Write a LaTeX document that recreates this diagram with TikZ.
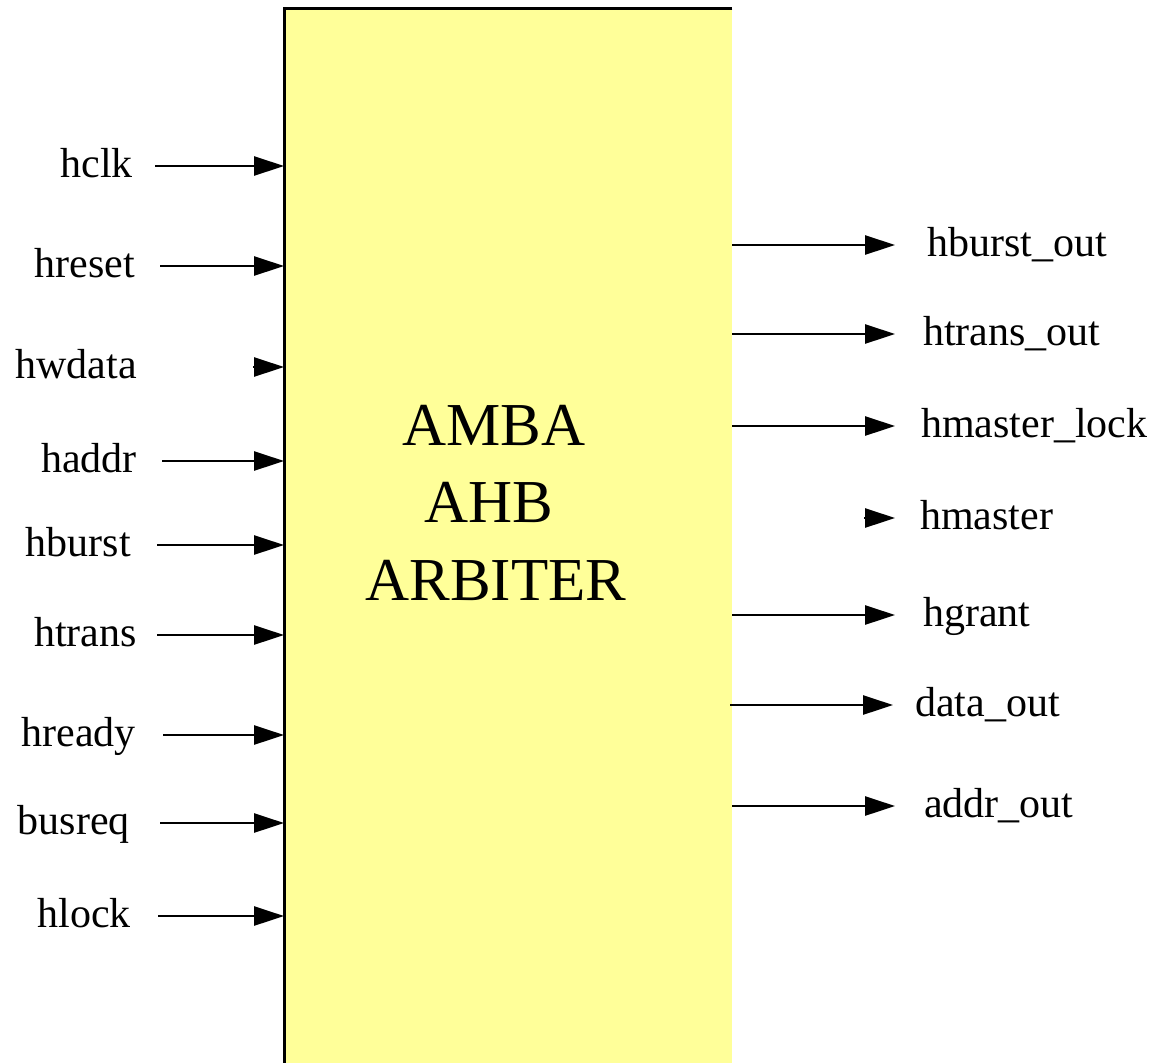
\documentclass[tikz,border=0pt]{standalone}
\usepackage{fontspec}
\setmainfont{Liberation Serif}
\usetikzlibrary{arrows.meta}
\definecolor{boxyellow}{RGB}{255,255,153}
\tikzset{
  lab/.style={inner sep=0pt, text height=22pt, text depth=0pt, font=\fontsize{42}{48}\selectfont},
  ttl/.style={inner sep=0pt, anchor=base, font=\fontsize{61}{72}\selectfont},
  sig/.style={line width=2.8pt, -{Triangle[length=30pt,width=19pt]}},
  tiponly/.style={line width=2.8pt, -{Triangle[length=30pt,width=19pt]}},
}
\begin{document}
\begin{tikzpicture}[x=1pt,y=-1pt]
\useasboundingbox (0,0) rectangle (1163,1063);
% block
\node[fill=boxyellow, draw=none, inner sep=0pt, minimum width=448pt, minimum height=1055pt, anchor=north west] (box) at (284,8) {};
\draw[line width=3pt] (box.north east) -- (box.north west) -- (box.south west);
\node[ttl] (t1) at (494,445) {AMBA};
\node[ttl] (t2) at (489,522) {AHB};
\node[ttl] (t3) at (496,600) {ARBITER};
% left inputs
\node[lab, anchor=east] (hclk)   at (133,166) {hclk};
\node[lab, anchor=east] (hreset) at (135,266) {hreset};
\node[lab, anchor=east] (hwdata) at (137,367) {hwdata};
\node[lab, anchor=east] (haddr)  at (137,461) {haddr};
\node[lab, anchor=east] (hburst) at (131,545) {hburst};
\node[lab, anchor=east] (htrans) at (137,635) {htrans};
\node[lab, anchor=east] (hready) at (136,735) {hready};
\node[lab, anchor=east] (busreq) at (130,823) {busreq};
\node[lab, anchor=east] (hlock)  at (131,916) {hlock};
\draw[sig] ([xshift=22pt]hclk.east)   -- (hclk.east -| box.west);
\draw[sig] ([xshift=25pt]hreset.east) -- (hreset.east -| box.west);
\draw[tiponly] ([xshift=-31pt]hwdata.east -| box.west) -- (hwdata.east -| box.west);
\draw[sig] ([xshift=25pt]haddr.east)  -- (haddr.east -| box.west);
\draw[sig] ([xshift=26pt]hburst.east) -- (hburst.east -| box.west);
\draw[sig] ([xshift=20pt]htrans.east) -- (htrans.east -| box.west);
\draw[sig] ([xshift=27pt]hready.east) -- (hready.east -| box.west);
\draw[sig] ([xshift=30pt]busreq.east) -- (busreq.east -| box.west);
\draw[sig] ([xshift=27pt]hlock.east)  -- (hlock.east -| box.west);
% right outputs
\coordinate (rtip) at (895,0);
\node[lab, anchor=west] (hburstout)  at (927,245) {hburst\_out};
\node[lab, anchor=west] (htransout)  at (923,334) {htrans\_out};
\node[lab, anchor=west] (hmlock)     at (921,426) {hmaster\_lock};
\node[lab, anchor=west] (hmaster)    at (920,518) {hmaster};
\node[lab, anchor=west] (hgrant)     at (923,615) {hgrant};
\node[lab, anchor=west] (dataout)    at (915,705) {data\_out};
\node[lab, anchor=west] (addrout)    at (924,806) {addr\_out};
\draw[sig] (hburstout.west -| box.east) -- (hburstout.west -| rtip);
\draw[sig] (htransout.west -| box.east) -- (htransout.west -| rtip);
\draw[sig] (hmlock.west -| box.east) -- (hmlock.west -| rtip);
\draw[tiponly] ([xshift=-31pt]hmaster.west -| rtip) -- (hmaster.west -| rtip);
\draw[sig] (hgrant.west -| box.east) -- (hgrant.west -| rtip);
\draw[sig] ([xshift=-2pt]dataout.west -| box.east) -- ([xshift=-2pt]dataout.west -| rtip);
\draw[sig] (addrout.west -| box.east) -- (addrout.west -| rtip);
\end{tikzpicture}
\end{document}
